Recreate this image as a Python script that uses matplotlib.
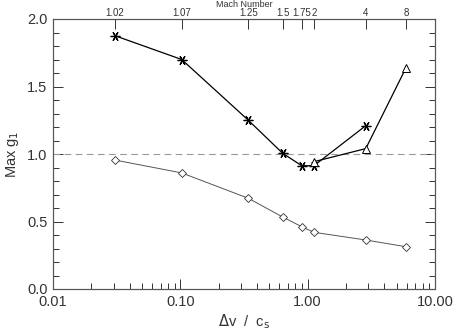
import matplotlib
matplotlib.use('Agg')
import matplotlib.pyplot as plt
from matplotlib.ticker import MultipleLocator, NullFormatter

mach_labels = ['1.02', '1.07', '1.25', '1.5', '1.75', '2', '4', '8']
dv = [0.0307, 0.1025, 0.342, 0.637, 0.899, 1.12, 2.86, 5.93]

star_x = [0.0307, 0.1025, 0.342, 0.637, 0.899, 1.12, 2.86]
star_y = [1.876, 1.70, 1.25, 1.005, 0.913, 0.913, 1.21]

tri_x = [1.12, 2.86, 5.93]
tri_y = [0.943, 1.04, 1.64]

dia_x = dv
dia_y = [0.955, 0.86, 0.672, 0.533, 0.461, 0.42, 0.363, 0.313]

plt.rcParams['font.family'] = ['Liberation Sans', 'DejaVu Sans']

fig = plt.figure(figsize=(4.57, 3.36), dpi=100)
ax = fig.add_axes([53/457, 1 - 289/336, 382/457, 270/336])

ax.axhline(1.0, color='#999999', lw=0.8, dashes=(6, 4))
ax.plot(star_x, star_y, color='black', lw=0.9, marker=(6, 2, 90), ms=7, mew=0.9)
ax.plot(tri_x, tri_y, color='black', lw=0.9, marker='^', ms=6, mfc='white', mew=0.7)
ax.plot(dia_x, dia_y, color='#555555', lw=0.7, marker='D', ms=4, mfc='white', mec='#333333', mew=0.6)

ax.set_xscale('log')
ax.set_xlim(0.01, 10)
ax.set_ylim(0, 2)
ax.set_xticks([0.01, 0.1, 1, 10])
ax.set_xticklabels(['0.01', '0.10', '1.00', '10.00'])
ax.xaxis.set_minor_formatter(NullFormatter())
ax.yaxis.set_major_locator(MultipleLocator(0.5))
ax.yaxis.set_minor_locator(MultipleLocator(0.1))
ax.yaxis.set_major_formatter(plt.FuncFormatter(lambda v, p: '%.1f' % v))
ax.tick_params(which='both', direction='in', top=False, right=True, colors='#333333',
               labelcolor='#333333', labelsize=10.5, width=0.7)
ax.tick_params(which='major', length=7, pad=4)
ax.tick_params(which='minor', length=4)
for s in ax.spines.values():
    s.set_color('#555555')
    s.set_linewidth(0.8)
ax.set_xlabel(r'$\Delta$v  /  c$_{\rm s}$', fontsize=10.5, color='#333333', labelpad=3)
ax.set_ylabel(r'Max g$_1$', fontsize=10.5, color='#333333')

ax2 = ax.twiny()
ax2.set_xscale('log')
ax2.set_xlim(ax.get_xlim())
ax2.set_xticks(dv)
ax2.set_xticklabels(mach_labels)
ax2.xaxis.set_minor_formatter(NullFormatter())
ax2.tick_params(which='minor', length=0)
ax2.tick_params(which='major', direction='in', length=7, pad=1, labelsize=7,
                colors='#333333', width=0.7)
ax2.set_xlabel('Mach Number', fontsize=6.5, labelpad=0.5, color='#333333')
for s in ax2.spines.values():
    s.set_color('#555555')
    s.set_linewidth(0.8)

fig.savefig('out.png', dpi=100)
